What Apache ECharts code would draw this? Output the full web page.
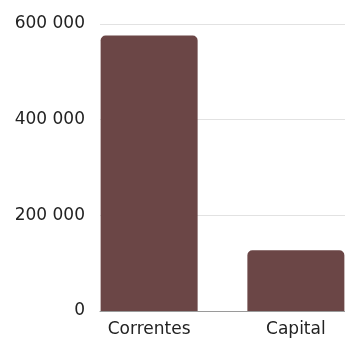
<!DOCTYPE html>
<html>
<head>
<meta charset="utf-8">
<script src="https://cdn.jsdelivr.net/npm/echarts@6/dist/echarts.min.js"></script>
<style>
  html, body { margin: 0; padding: 0; background: #ffffff; }
  #chart { width: 345px; height: 342px; }
</style>
</head>
<body>
<div id="chart"></div>
<script>
// Expenditure by type
const categories = ['Correntes', 'Capital'];
const values = [576000, 127000];
const yTicks = { min: 0, max: 600000, interval: 200000 };

const barColor = '#6b4646';
const fontFamily = 'DejaVu Sans';

// Each category gets its own series so the two bars can sit off-centre in their slots
const seriesData = categories.map((c, i) =>
  values.map((v, j) => (i === j ? v : '-'))
);

const chart = echarts.init(document.getElementById('chart'), null, { renderer: 'canvas' });

chart.setOption({
  animation: false,
  grid: { left: 100, right: 0, top: 24, bottom: 31, containLabel: false },
  xAxis: {
    type: 'category',
    data: categories,
    boundaryGap: true,
    axisLine: { show: true, lineStyle: { color: '#9a9a9a', width: 1 } },
    axisTick: { show: false },
    axisLabel: { show: false },
    splitLine: { show: false }
  },
  yAxis: {
    type: 'value',
    min: yTicks.min,
    max: yTicks.max,
    interval: yTicks.interval,
    axisLine: { show: false },
    axisTick: { show: false },
    axisLabel: {
      margin: 15,
      color: '#222222',
      fontFamily: fontFamily,
      fontSize: 17,
      formatter: v => String(v).replace(/\B(?=(\d{3})+(?!\d))/g, ' ')
    },
    splitLine: { show: true, lineStyle: { color: '#e2e2e2', width: 1 } }
  },
  series: seriesData.map(d => ({
    type: 'bar',
    data: d,
    barWidth: 97,
    barGap: '-75%',
    clip: false,
    itemStyle: { color: barColor, borderRadius: [5, 5, 0, 0] },
    label: {
      show: true,
      position: 'bottom',
      distance: 10,
      formatter: '{b}',
      color: '#222222',
      fontFamily: fontFamily,
      fontSize: 17
    }
  }))
});
</script>
</body>
</html>
